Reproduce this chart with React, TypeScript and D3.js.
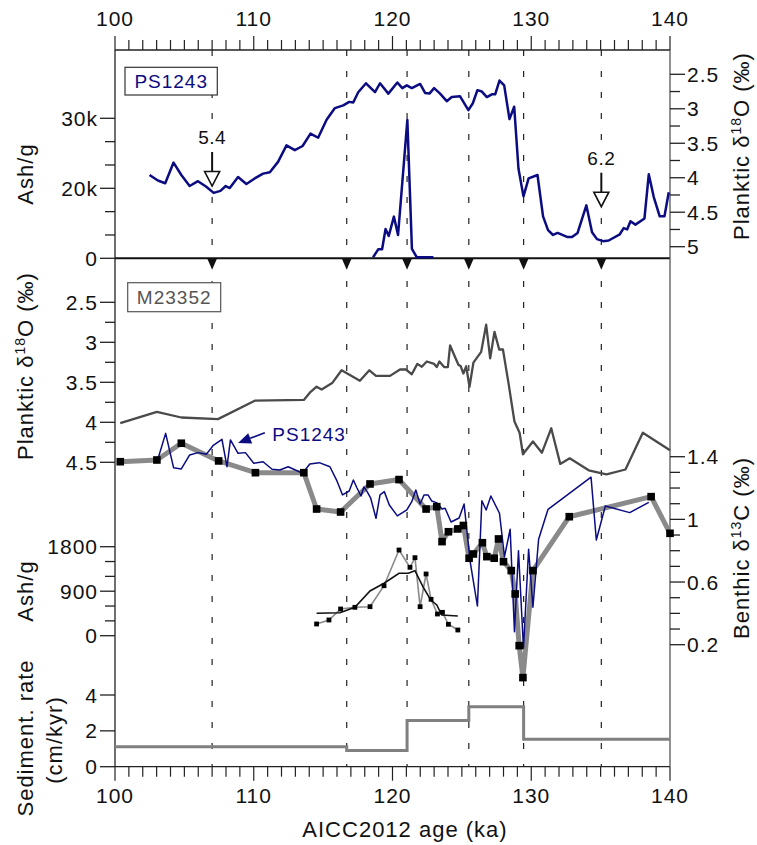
import React from "react";
import * as d3 from "d3";

// ---------- DATA ----------
const topAges = [100, 110, 120, 130, 140];
const eventAges = [107, 116.7, 121.05, 125.5, 129.45, 135.05];

// PS1243 planktic d18O (top panel, right axis)
const ps1243O18: [number, number][] = [
  [102.49, 3.96], [103.09, 4.04], [103.62, 4.08], [104.22, 3.78], [104.78, 3.96], [105.38, 4.12],
  [105.98, 4.05], [106.58, 4.13], [107.11, 4.22], [107.6, 4.19], [107.98, 4.12], [108.27, 4.15],
  [108.87, 3.99], [109.47, 4.09], [110.07, 4.01], [110.67, 3.94], [111.16, 3.92], [111.75, 3.77],
  [112.36, 3.53], [112.96, 3.6], [113.52, 3.54], [114.09, 3.36], [114.64, 3.42], [115.25, 3.16],
  [115.85, 2.99], [116.45, 2.95], [116.88, 2.9], [117.17, 2.91], [117.53, 2.76], [118.09, 2.63],
  [118.74, 2.76], [119.1, 2.63], [119.7, 2.78], [120.35, 2.62], [120.71, 2.7], [121.03, 2.66],
  [121.39, 2.7], [121.99, 2.64], [122.35, 2.77], [122.66, 2.78], [123.0, 2.7], [123.43, 2.78],
  [123.91, 2.89], [124.27, 2.83], [124.87, 2.82], [125.47, 3.02], [125.79, 2.92], [126.12, 2.73],
  [126.44, 2.75], [126.8, 2.83], [127.16, 2.79], [127.4, 2.79], [127.71, 2.59], [128.05, 2.66],
  [128.43, 3.15], [128.77, 2.97], [129.08, 3.87], [129.44, 4.27], [129.81, 4.01], [130.45, 3.96],
  [130.85, 4.56], [131.21, 4.76], [131.57, 4.83], [131.9, 4.8], [132.62, 4.86], [132.94, 4.86],
  [133.34, 4.8], [133.97, 4.4], [134.38, 4.79], [134.74, 4.89], [135.18, 4.92], [135.58, 4.91],
  [136.38, 4.82], [136.66, 4.73], [136.91, 4.75], [137.15, 4.63], [137.51, 4.68], [138.16, 4.59],
  [138.47, 3.95], [138.83, 4.28], [139.26, 4.56], [139.6, 4.56], [139.91, 4.21],
];

// PS1243 ash (top panel, left axis)
const ps1243Ash: [number, number][] = [
  [118.6, 300], [118.97, 2570], [119.25, 2570], [119.5, 8370], [119.73, 6370], [120.1, 11900],
  [120.4, 6660], [121.07, 29750], [121.4, 2660], [121.75, 300], [122.95, 300],
];

// M23352 planktic d18O (middle panel, left axis)
const m23352O18: [number, number][] = [
  [100.38, 4.01], [103.02, 3.87], [104.78, 3.94], [107.42, 3.96], [110.07, 3.73], [113.61, 3.72],
  [114.04, 3.63], [114.53, 3.555], [114.89, 3.59], [115.65, 3.51], [116.33, 3.35], [117.65, 3.48],
  [118.33, 3.35], [118.81, 3.42], [119.82, 3.42], [120.54, 3.34], [120.97, 3.34], [121.39, 3.4],
  [121.79, 3.27], [122.11, 3.305], [122.47, 3.24], [123.0, 3.27], [123.19, 3.31], [123.38, 3.24],
  [123.72, 3.31], [123.99, 3.31], [124.15, 3.04], [124.75, 3.28], [124.92, 3.3], [125.11, 3.39],
  [125.31, 3.3], [125.55, 3.555], [125.83, 3.255], [126.39, 3.12], [126.75, 2.78], [127.04, 3.2],
  [127.35, 2.87], [127.69, 3.09], [127.96, 3.09], [128.36, 3.51], [128.79, 3.99], [129.16, 4.13],
  [129.4, 4.4], [130.12, 4.24], [130.77, 4.38], [131.44, 4.075], [132.09, 4.52], [132.77, 4.45],
  [134.14, 4.6], [135.42, 4.65], [136.79, 4.59], [138.04, 4.13], [140.0, 4.35],
];

// M23352 benthic d13C (right axis)
const m23352C13: [number, number][] = [
  [100.38, 1.368], [103.02, 1.379], [104.78, 1.486], [107.47, 1.373], [110.12, 1.298], [113.61, 1.298],
  [114.53, 1.066], [116.26, 1.047], [118.38, 1.226], [120.47, 1.254], [122.42, 1.066], [123.19, 1.081],
  [123.57, 0.858], [124.03, 0.921], [124.71, 0.939], [125.11, 0.961], [125.52, 0.752], [125.83, 0.779],
  [126.48, 0.851], [126.8, 0.762], [127.33, 0.752], [127.64, 0.875], [128.0, 0.73], [128.56, 0.673],
  [128.84, 0.524], [129.13, 0.194], [129.4, -0.01], [130.12, 0.673], [132.74, 1.017], [138.64, 1.145],
  [140.0, 0.911],
];

// PS1243 benthic d13C (right axis)
const ps1243C13: [number, number][] = [
  [103.05, 1.373], [103.65, 1.549], [104.22, 1.33], [104.78, 1.322], [105.38, 1.411], [105.98, 1.426],
  [106.58, 1.415], [107.06, 1.47], [107.71, 1.511], [108.07, 1.336], [108.32, 1.507], [108.87, 1.422],
  [109.4, 1.426], [110.0, 1.358], [110.67, 1.368], [111.32, 1.32], [111.88, 1.315], [112.48, 1.336],
  [113.52, 1.294], [114.04, 1.353], [114.72, 1.362], [115.49, 1.336], [115.97, 1.251], [116.4, 1.156],
  [116.88, 1.181], [117.18, 1.251], [117.44, 1.2], [117.73, 1.149], [117.94, 1.207], [118.18, 1.175],
  [118.43, 1.135], [118.81, 1.007], [119.1, 1.156], [119.41, 1.177], [119.77, 1.092], [120.35, 1.022],
  [121.03, 1.06], [121.39, 1.113], [121.68, 1.188], [121.99, 1.098], [122.27, 1.156], [122.56, 1.156],
  [122.83, 1.117], [123.21, 1.105], [123.57, 1.066], [123.79, 1.071], [124.22, 0.983], [124.8, 1.009],
  [125.16, 1.098], [125.6, 0.728], [126.12, 0.447], [126.44, 1.119], [126.75, 1.06], [127.09, 1.149],
  [127.71, 1.039], [128.07, 0.762], [128.48, 0.937], [128.79, 0.283], [129.08, 0.8], [129.44, 0.177],
  [129.81, 0.809], [130.12, 0.439], [130.53, 0.873], [131.21, 1.064], [134.31, 1.269], [134.69, 0.868],
  [135.34, 1.085], [137.1, 1.043], [138.47, 1.109],
];

// M23352 ash counts (raw and smoothed)
const ashRaw: [number, number][] = [
  [114.53, 237], [115.42, 318], [116.26, 540], [117.29, 574], [118.38, 587], [119.39, 1011],
  [120.47, 1733], [121.26, 1383], [121.62, 1578], [121.99, 587], [122.42, 1248], [122.78, 736],
  [123.24, 439], [123.6, 473], [124.03, 231], [124.71, 115],
];
const ashSmooth: [number, number][] = [
  [114.53, 453], [116.21, 465], [117.29, 574], [118.38, 904], [119.39, 1060], [120.47, 1262],
  [121.14, 1262], [121.62, 1315], [122.22, 979], [122.76, 722], [123.19, 621], [123.55, 419],
  [124.71, 398],
];

// Sedimentation rate (step)
const sedAges = [100, 116.7, 121.05, 125.5, 129.45, 140];
const sedRates = [1.11, 0.905, 2.58, 3.34, 1.53, 1.53];

// Annotations (age, planktic d18O at arrow tip, label)
const annotAges = [107, 135.05];
const annotValues = [4.12, 4.42];
const annotLabels = ["5.4", "6.2"];

// tick labels
const ashTopTicks = [0, 20000, 30000];
const ashTopLabels = ["0", "20k", "30k"];
const o18TopTicks = [2.5, 3, 3.5, 4, 4.5, 5];
const o18MidTicks = [2.5, 3, 3.5, 4, 4.5];
const c13Ticks = [1.4, 1, 0.6, 0.2];
const ashMidTicks = [0, 900, 1800];
const sedTicks = [0, 2, 4];

// ---------- STYLE ----------
const FONT = "'Liberation Sans', Arial, Helvetica, sans-serif";
const NAVY = "#0b0b82";
const DARK = "#4a4a4a";
const GREY = "#8a8a8a";

const L = 115, R = 670, TOP = 50, BOT = 766.7, SEP = 258.3;

export default function App() {
  const x = d3.scaleLinear().domain([100, 140]).range([L, R]);
  const yAshTop = d3.scaleLinear().domain([0, 20000, 30000]).range([SEP, 188.3, 118.3]);
  const yO18Top = d3.scaleLinear().domain([2.5, 5]).range([74.3, 246.7]);
  const yO18Mid = d3.scaleLinear().domain([2.5, 4.5]).range([302.3, 462.3]);
  const yC13 = d3.scaleLinear().domain([1.4, 0.2]).range([456.7, 644.7]);
  const yAsh = d3.scaleLinear().domain([0, 1800]).range([635.7, 546.7]);
  const ySed = d3.scaleLinear().domain([0, 4]).range([BOT, 695]);

  const mk = (ys: d3.ScaleLinear<number, number>) =>
    d3.line<[number, number]>().x((d) => x(d[0])).y((d) => ys(d[1]));

  const sedPts: [number, number][] = sedAges.map((a, i) => [a, sedRates[i]]);
  const sedLine = d3
    .line<[number, number]>()
    .x((d) => x(d[0]))
    .y((d) => ySed(d[1]))
    .curve(d3.curveStepAfter);

  const tickText = { fontFamily: FONT, fontSize: 21, letterSpacing: 1, fill: "#111" } as const;
  const titleText = { fontFamily: FONT, fontSize: 22, letterSpacing: 1, fill: "#111" } as const;

  const leftTicks = (
    ys: (v: number) => number,
    majors: number[],
    minors: number[],
    labels: string[],
    key: string
  ) => (
    <g key={key}>
      {majors.map((v, i) => (
        <g key={"M" + i}>
          <line x1={L - 15} x2={L} y1={ys(v)} y2={ys(v)} stroke="#222" strokeWidth={1.3} />
          <text x={L - 17} y={ys(v)} dy="0.36em" textAnchor="end" {...tickText}>
            {labels[i]}
          </text>
        </g>
      ))}
      {minors.map((v, i) => (
        <line key={"m" + i} x1={L - 10} x2={L} y1={ys(v)} y2={ys(v)} stroke="#222" strokeWidth={1.3} />
      ))}
    </g>
  );

  const rightTicks = (
    ys: (v: number) => number,
    majors: number[],
    minors: number[],
    labels: string[],
    key: string
  ) => (
    <g key={key}>
      {majors.map((v, i) => (
        <g key={"M" + i}>
          <line x1={R} x2={R + 15} y1={ys(v)} y2={ys(v)} stroke="#222" strokeWidth={1.3} />
          <text x={R + 17} y={ys(v)} dy="0.36em" textAnchor="start" {...tickText}>
            {labels[i]}
          </text>
        </g>
      ))}
      {minors.map((v, i) => (
        <line key={"m" + i} x1={R} x2={R + 10} y1={ys(v)} y2={ys(v)} stroke="#222" strokeWidth={1.3} />
      ))}
    </g>
  );

  const xTicks = d3.range(100, 141, 1);

  const o18TopMinor = d3.range(2.75, 5, 0.5);
  const o18MidMinor = d3.range(2.75, 4.5, 0.5);
  const c13Minor = d3.range(0.2, 1.41, 0.1).filter((v) => !c13Ticks.some((t) => Math.abs(t - v) < 1e-6));
  const ashMidMinor = [300, 600, 1200, 1500];
  const ashTopMinor = [20000 / 3, 40000 / 3, 70000 / 3, 80000 / 3];

  const rotTitle = (cx: number, cy: number, content: React.ReactNode, key: string) => (
    <text key={key} transform={`translate(${cx},${cy}) rotate(-90)`} textAnchor="middle" {...titleText}>
      {content}
    </text>
  );
  const deltaTitle = (pre: string, iso: string, el: string) => (
    <>
      {pre} δ<tspan dy={-8} fontSize={14}>{iso}</tspan>
      <tspan dy={8}>{el} (‰)</tspan>
    </>
  );

  // arrow for PS1243 label in middle panel
  const tip: [number, number] = [x(108.87), 443];
  const tail: [number, number] = [x(110.8), 432.7];
  const dx = tip[0] - tail[0], dyy = tip[1] - tail[1];
  const len = Math.hypot(dx, dyy);
  const ux = dx / len, uy = dyy / len;
  const bx = tip[0] - 13 * ux, by = tip[1] - 13 * uy;
  const head = `M${tip[0]},${tip[1]} L${bx - 5.5 * uy},${by + 5.5 * ux} L${bx + 5.5 * uy},${by - 5.5 * ux} Z`;

  return (
    <svg
      width={757}
      height={845}
      viewBox="0 0 757 845"
      style={{ position: "absolute", left: 0, top: 0, background: "#fff" }}
    >
      <rect x={0} y={0} width={757} height={845} fill="#fff" />

      {/* dashed event lines */}
      {eventAges.map((a, i) => (
        <line
          key={"ev" + i}
          x1={x(a)}
          x2={x(a)}
          y1={TOP}
          y2={BOT}
          stroke="#222"
          strokeWidth={1.2}
          strokeDasharray="6,15"
        />
      ))}

      {/* separator + triangles */}
      <line x1={L} x2={R} y1={SEP} y2={SEP} stroke="#111" strokeWidth={2} />
      {eventAges.map((a, i) => (
        <path key={"tri" + i} d={`M${x(a) - 5},${SEP} L${x(a) + 5},${SEP} L${x(a)},${SEP + 11.5} Z`} fill="#111" />
      ))}

      {/* frame */}
      <line x1={L} x2={R} y1={TOP} y2={TOP} stroke="#222" strokeWidth={1.3} />
      <line x1={L} x2={R} y1={BOT} y2={BOT} stroke="#222" strokeWidth={1.3} />
      <line x1={L} x2={L} y1={TOP} y2={BOT} stroke="#222" strokeWidth={1.3} />
      <line x1={R} x2={R} y1={TOP} y2={BOT} stroke="#555" strokeWidth={1.3} />

      {/* x ticks top & bottom */}
      {xTicks.map((v) => {
        const major = v % 10 === 0;
        return (
          <g key={"xt" + v}>
            <line x1={x(v)} x2={x(v)} y1={TOP} y2={TOP - (major ? 14 : 10)} stroke="#222" strokeWidth={1.2} />
            <line x1={x(v)} x2={x(v)} y1={BOT} y2={BOT + (major ? 14 : 10)} stroke="#222" strokeWidth={1.2} />
          </g>
        );
      })}
      {topAges.map((v) => (
        <g key={"xl" + v}>
          <text x={x(v)} y={26} textAnchor="middle" {...tickText}>{v}</text>
          <text x={x(v)} y={803} textAnchor="middle" {...tickText}>{v}</text>
        </g>
      ))}
      <text x={405} y={837} textAnchor="middle" {...titleText}>AICC2012 age (ka)</text>

      {/* axes */}
      {leftTicks(yAshTop, ashTopTicks, ashTopMinor, ashTopLabels, "ashTop")}
      {rightTicks(yO18Top, o18TopTicks, o18TopMinor, o18TopTicks.map(String), "o18Top")}
      {leftTicks(yO18Mid, o18MidTicks, o18MidMinor, o18MidTicks.map(String), "o18Mid")}
      {rightTicks(yC13, c13Ticks, c13Minor, c13Ticks.map(String), "c13")}
      {leftTicks(yAsh, ashMidTicks, ashMidMinor, ashMidTicks.map(String), "ashMid")}
      {leftTicks(ySed, sedTicks, [], sedTicks.map(String), "sed")}

      {/* axis titles */}
      {rotTitle(32.5, 174, "Ash/g", "t1")}
      {rotTitle(33, 366, deltaTitle("Planktic", "18", "O"), "t2")}
      {rotTitle(33, 591, "Ash/g", "t3")}
      {rotTitle(32.5, 738, "Sediment. rate", "t4")}
      {rotTitle(62, 740, "(cm/kyr)", "t5")}
      {rotTitle(748.5, 146, deltaTitle("Planktic", "18", "O"), "t6")}
      {rotTitle(748.5, 548, deltaTitle("Benthic", "13", "C"), "t7")}

      {/* top panel */}
      <path d={mk(yAshTop)(ps1243Ash) || ""} fill="none" stroke={NAVY} strokeWidth={2.5} strokeLinejoin="round" />
      {annotAges.map((a, i) => {
        const tx = x(a);
        const ty = yO18Top(annotValues[i]);
        return (
          <g key={"an" + i}>
            <rect x={tx - 17} y={ty - 60} width={34} height={60} fill="#fff" />
            <text x={tx} y={ty - 42} textAnchor="middle" fontFamily={FONT} fontSize={19} letterSpacing={0.5} fill="#111">
              {annotLabels[i]}
            </text>
            <line x1={tx} x2={tx} y1={ty - 34} y2={ty - 14.5} stroke="#111" strokeWidth={2} />
            <path
              d={`M${tx - 7.5},${ty - 14.5} L${tx + 7.5},${ty - 14.5} L${tx},${ty} Z`}
              fill="#fff"
              stroke="#111"
              strokeWidth={1.6}
              strokeLinejoin="miter"
            />
          </g>
        );
      })}
      <path d={mk(yO18Top)(ps1243O18) || ""} fill="none" stroke={NAVY} strokeWidth={2.5} strokeLinejoin="round" />
      <rect x={125} y={67.3} width={92.3} height={27.7} fill="#fff" stroke="#333" strokeWidth={1.2} />
      <text x={171.2} y={88} textAnchor="middle" fontFamily={FONT} fontSize={19} letterSpacing={1} fill={NAVY}>
        PS1243
      </text>

      {/* middle panel */}
      <rect x={127.7} y={282.7} width={93} height={29} fill="#fff" stroke="#555" strokeWidth={1.2} />
      <text x={174.2} y={304} textAnchor="middle" fontFamily={FONT} fontSize={19} letterSpacing={1} fill="#555">
        M23352
      </text>
      <path d={mk(yO18Mid)(m23352O18) || ""} fill="none" stroke={DARK} strokeWidth={2.3} strokeLinejoin="round" />
      <path d={mk(yC13)(m23352C13) || ""} fill="none" stroke={GREY} strokeWidth={5} strokeLinejoin="round" />
      <path d={mk(yC13)(ps1243C13) || ""} fill="none" stroke={NAVY} strokeWidth={1.5} strokeLinejoin="round" />
      {m23352C13.map((d, i) => (
        <rect key={"sq" + i} x={x(d[0]) - 3.8} y={yC13(d[1]) - 3.8} width={7.6} height={7.6} fill="#000" />
      ))}
      <line x1={tail[0]} y1={tail[1]} x2={bx} y2={by} stroke={NAVY} strokeWidth={1.6} />
      <path d={head} fill={NAVY} />
      <text x={272.3} y={441} fontFamily={FONT} fontSize={19} letterSpacing={1} fill={NAVY}>
        PS1243
      </text>

      {/* ash lower */}
      <path d={mk(yAsh)(ashRaw) || ""} fill="none" stroke={GREY} strokeWidth={1.6} />
      <path d={mk(yAsh)(ashSmooth) || ""} fill="none" stroke="#111" strokeWidth={1.6} />
      {ashRaw.map((d, i) => (
        <rect key={"as" + i} x={x(d[0]) - 2.4} y={yAsh(d[1]) - 2.4} width={4.8} height={4.8} fill="#000" />
      ))}

      {/* sediment rate */}
      <path d={sedLine(sedPts) || ""} fill="none" stroke="#808080" strokeWidth={3} />
    </svg>
  );
}
